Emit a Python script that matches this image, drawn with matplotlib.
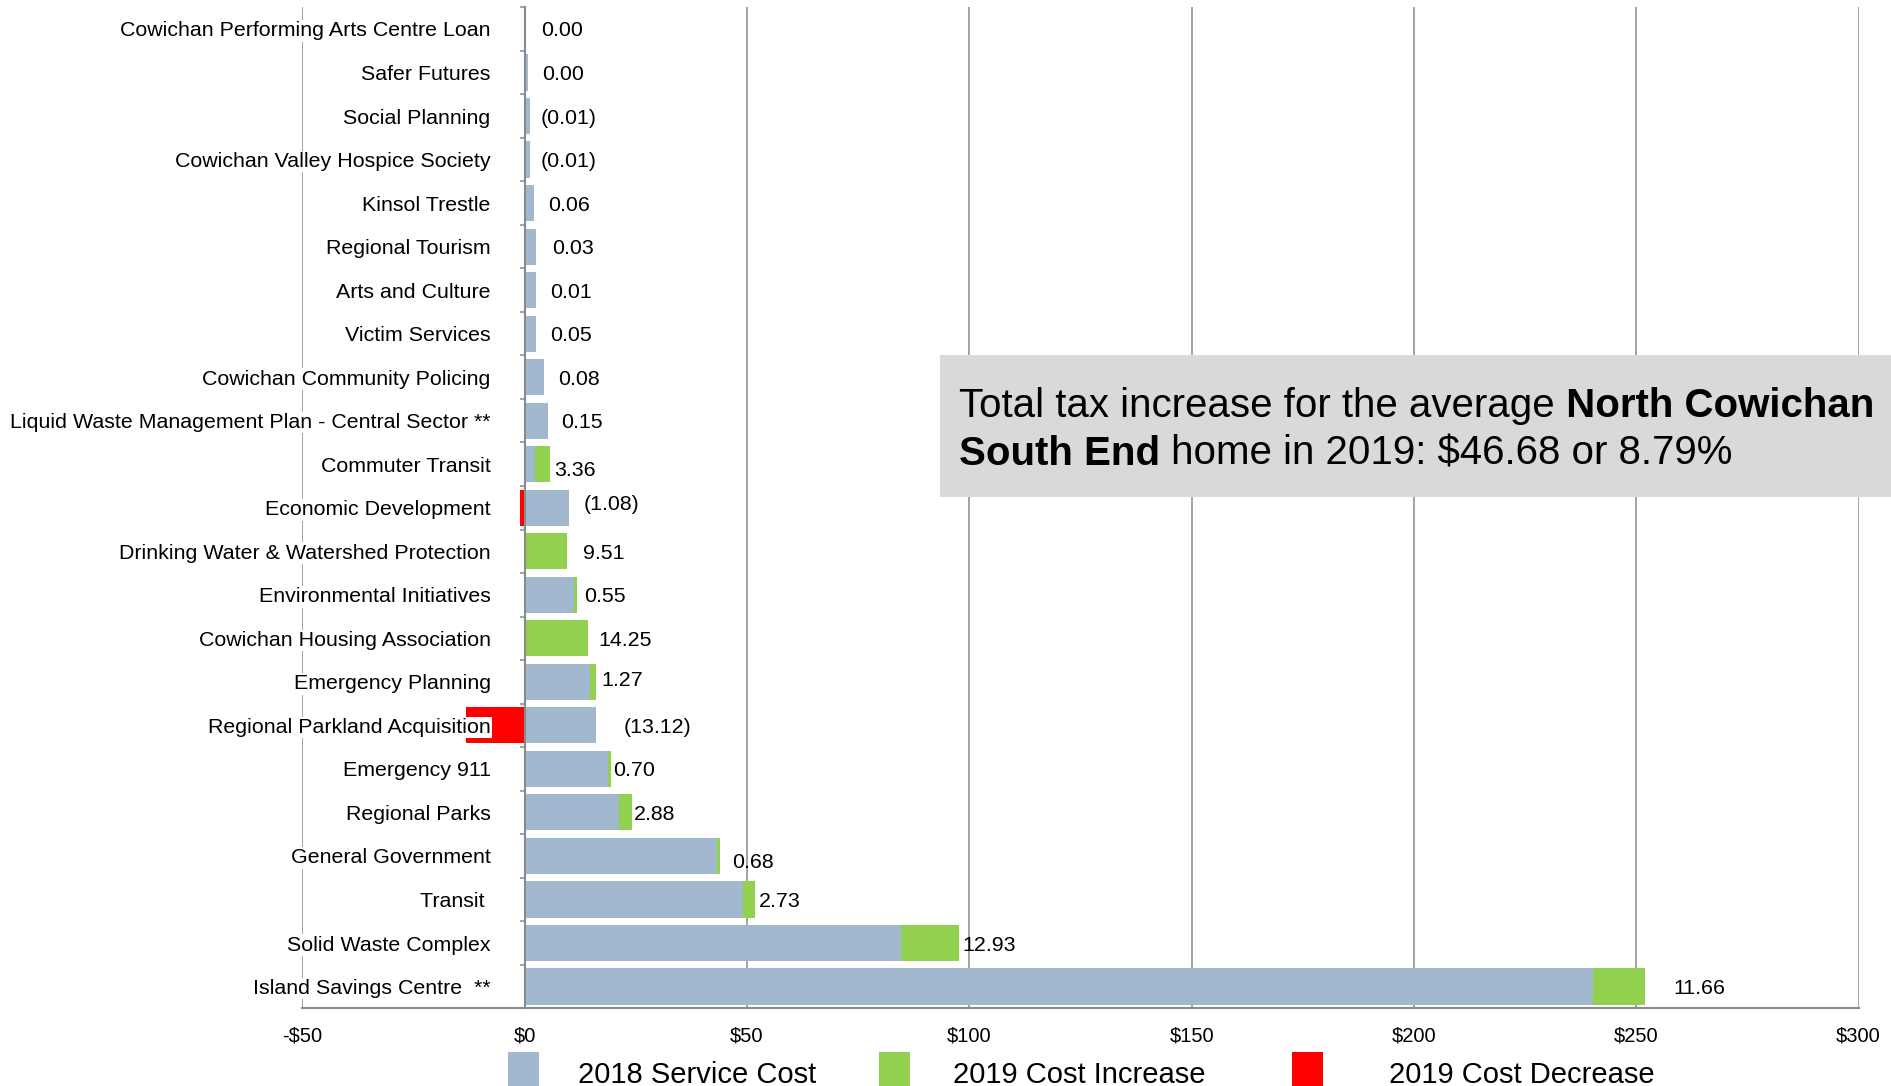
import matplotlib
matplotlib.use('Agg')
import matplotlib.pyplot as plt
from matplotlib.patches import Rectangle
from matplotlib.text import Annotation
import numpy as np

plt.rcParams['font.family'] = ['Liberation Sans', 'DejaVu Sans']

# services, top to bottom
services = [
    'Cowichan Performing Arts Centre Loan', 'Safer Futures', 'Social Planning',
    'Cowichan Valley Hospice Society', 'Kinsol Trestle', 'Regional Tourism',
    'Arts and Culture', 'Victim Services', 'Cowichan Community Policing',
    'Liquid Waste Management Plan - Central Sector **', 'Commuter Transit',
    'Economic Development', 'Drinking Water & Watershed Protection',
    'Environmental Initiatives', 'Cowichan Housing Association',
    'Emergency Planning', 'Regional Parkland Acquisition', 'Emergency 911',
    'Regional Parks', 'General Government', 'Transit ', 'Solid Waste Complex',
    'Island Savings Centre  **',
]
cost_2018 = [0.0, 0.75, 1.27, 1.27, 2.0, 2.5, 2.6, 2.6, 4.27, 5.2, 2.3, 10.04,
             0.0, 11.2, 0.0, 14.7, 16.1, 18.75, 21.2, 43.25, 49.0, 84.7, 240.3]
change_2019 = [0.00, 0.00, -0.01, -0.01, 0.06, 0.03, 0.01, 0.05, 0.08, 0.15,
               3.36, -1.08, 9.51, 0.55, 14.25, 1.27, -13.12, 0.70, 2.88, 0.68,
               2.73, 12.93, 11.66]
x_ticks = [-50, 0, 50, 100, 150, 200, 250, 300]

# label nudges in pixels (layout only)
label_dx = [16, 14, 10, 10, 14, 16, 14, 14, 14, 13, 4, 14, 16, 7, 10, 6, 27, 2, 2, 12, 4, 4, 28]
label_dy = [0, 0, 0, 0, 0, 0, 0, 0, 0, 0, 4, -5, 0, 0, 0, -3, 0, 0, 0, 5, 0, 0, 0]

BLUE = '#a2b8cf'
GREEN = '#92d050'
RED = '#ff0000'
GRID = '#8a8a8a'
FS = 15.4

W, H = 1891, 1086
fig = plt.figure(figsize=(W / 100, H / 100), dpi=100)
ax = fig.add_axes([302.3 / W, 1 - 1008.3 / H, (1858.6 - 302.3) / W, (1008.3 - 7.2) / H])

y = np.arange(len(services))
base = np.array(cost_2018)
chg = np.array(change_2019)
inc = np.clip(chg, 0, None)
dec = np.clip(chg, None, 0)

ax.barh(y, base, height=0.83, color=BLUE, linewidth=0, zorder=2)
ax.barh(y, inc, left=base, height=0.83, color=GREEN, linewidth=0, zorder=2)
ax.barh(y, dec, height=0.83, color=RED, linewidth=0, zorder=2)

ax.set_xlim(-50, 300)
ax.set_ylim(len(services) - 0.5, -0.5)

ax.set_xticks(x_ticks)
ax.set_xticklabels([f'-${-v}' if v < 0 else f'${v}' for v in x_ticks], fontsize=14.5)
ax.tick_params(axis='x', length=0, pad=13)
ax.xaxis.grid(True, color=GRID, linewidth=1.1)
ax.set_axisbelow(True)

ax.set_yticks([])
ax.set_yticks(np.arange(-0.5, len(services), 1), minor=True)
ax.tick_params(axis='y', which='minor', length=3.8, width=1.1, color=GRID, direction='out')

for s in ['top', 'right']:
    ax.spines[s].set_visible(False)
ax.spines['left'].set_position(('data', 0))
ax.spines['left'].set_color(GRID)
ax.spines['left'].set_linewidth(1.5)
ax.spines['bottom'].set_color(GRID)
ax.spines['bottom'].set_linewidth(1.5)

# category labels with white backing over the -$50 gridline
for i, name in enumerate(services):
    ax.annotate(name, xy=(0, i), xytext=(-34, -2), textcoords='offset pixels',
                ha='right', va='center', fontsize=FS, zorder=6,
                annotation_clip=False,
                bbox=dict(facecolor='white', edgecolor='none', pad=1))

# value labels
for i, v in enumerate(change_2019):
    end = max(base[i] + inc[i], 0)
    txt = f'({abs(v):.2f})' if v < 0 else f'{v:.2f}'
    ax.annotate(txt, xy=(end, i), xytext=(label_dx[i], -label_dy[i] - 2),
                textcoords='offset pixels', ha='left', va='center',
                fontsize=FS, zorder=5)

# summary box
box = Rectangle((939.5 / W, 1 - 496.9 / H), (W - 939.5) / W, (496.9 - 354.6) / H,
                transform=fig.transFigure, facecolor='#d9d9d9', edgecolor='none', zorder=3)
fig.patches.append(box)
t1 = fig.text(959 / W, 1 - 406 / H, 'Total tax increase for the average', fontsize=29,
              va='center', zorder=4, parse_math=False)
fig.add_artist(Annotation(' North Cowichan', xy=(1, 0.5), xycoords=t1, va='center',
                          fontsize=29, fontweight='bold', zorder=4))
t3 = fig.text(959 / W, 1 - 454 / H, 'South End', fontsize=29, fontweight='bold',
              va='center', zorder=4)
fig.add_artist(Annotation(' home in 2019: $46.68 or 8.79%', xy=(1, 0.5), xycoords=t3,
                          va='center', fontsize=29, zorder=4, parse_math=False))

# legend
legend_items = [('2018 Service Cost', BLUE, 508, 578),
                ('2019 Cost Increase', GREEN, 879, 953),
                ('2019 Cost Decrease', RED, 1292, 1389)]
for label, color, sx, tx in legend_items:
    fig.patches.append(Rectangle((sx / W, 1 - 1095 / H), 31 / W, 43 / H,
                                 transform=fig.transFigure, facecolor=color,
                                 edgecolor='none'))
    fig.text(tx / W, 1 - 1083 / H, label, fontsize=21, va='baseline')

fig.savefig('out.png', dpi=100)
